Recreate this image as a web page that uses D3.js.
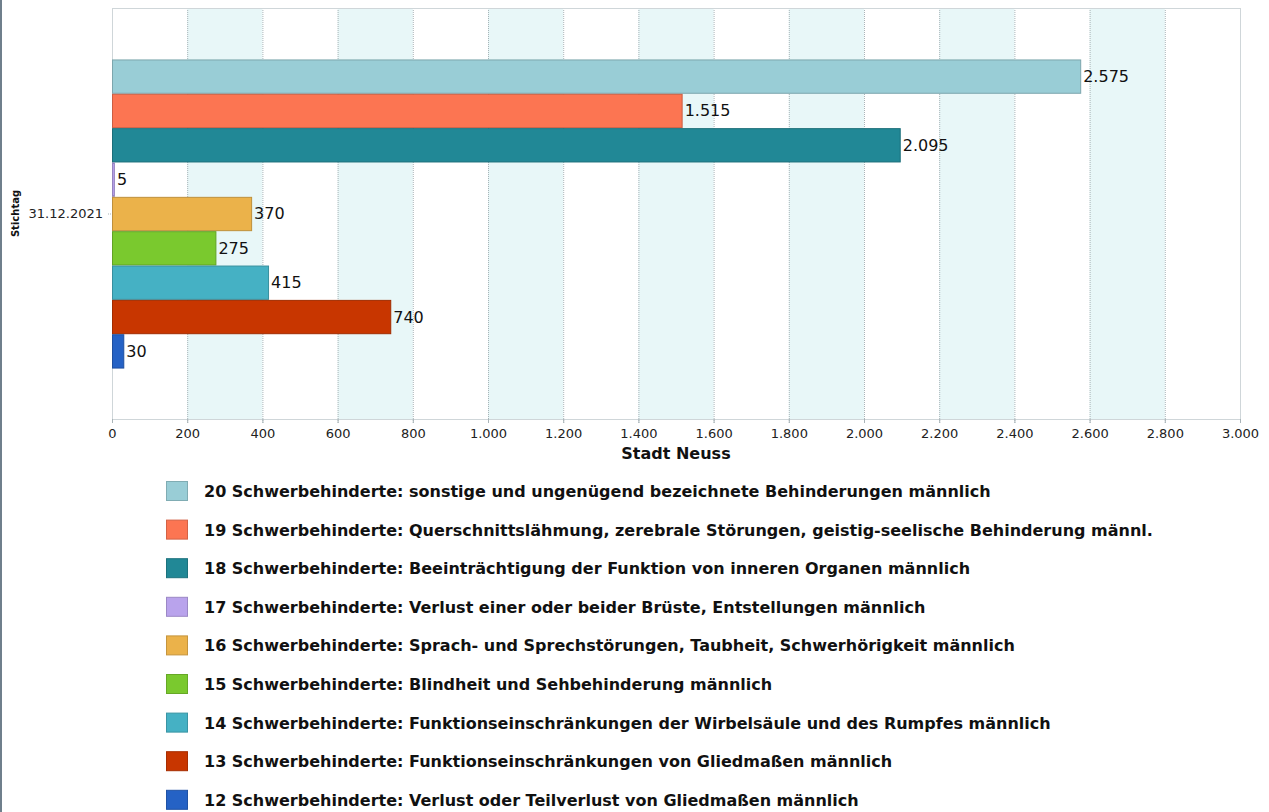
<!DOCTYPE html>
<html lang="de">
<head>
<meta charset="utf-8">
<title>Schwerbehinderte Stadt Neuss</title>
<script src="https://d3js.org/d3.v7.min.js"></script>
<style>
  body { margin: 0; background: #fff; }
  svg { display: block; font-family: "DejaVu Sans", Verdana, sans-serif; }
</style>
</head>
<body>
<svg id="chart" width="1269" height="812"></svg>
<script>
const stichtag = ["31.12.2021"];
const series = [
  "20 Schwerbehinderte: sonstige und ungenügend bezeichnete Behinderungen männlich",
  "19 Schwerbehinderte: Querschnittslähmung, zerebrale Störungen, geistig-seelische Behinderung männl.",
  "18 Schwerbehinderte: Beeinträchtigung der Funktion von inneren Organen männlich",
  "17 Schwerbehinderte: Verlust einer oder beider Brüste, Entstellungen männlich",
  "16 Schwerbehinderte: Sprach- und Sprechstörungen, Taubheit, Schwerhörigkeit männlich",
  "15 Schwerbehinderte: Blindheit und Sehbehinderung männlich",
  "14 Schwerbehinderte: Funktionseinschränkungen der Wirbelsäule und des Rumpfes männlich",
  "13 Schwerbehinderte: Funktionseinschränkungen von Gliedmaßen männlich",
  "12 Schwerbehinderte: Verlust oder Teilverlust von Gliedmaßen männlich"
];
const values = [2575, 1515, 2095, 5, 370, 275, 415, 740, 30];
const colors = ["#99cdd6", "#fc7552", "#218896", "#b9a3ec", "#ebb24a", "#7ac92e", "#45b1c4", "#c83600", "#2562c5"];
const xTicks = [0, 200, 400, 600, 800, 1000, 1200, 1400, 1600, 1800, 2000, 2200, 2400, 2600, 2800, 3000];

const svg = d3.select("#chart");
const fmt = d3.formatLocale({decimal: ",", thousands: ".", grouping: [3], currency: ["", "€"]}).format(",d");

// left frame edge
svg.append("rect").attr("x", 0).attr("y", 0).attr("width", 2).attr("height", 812).attr("fill", "#6f7f8c");

const plot = {left: 112, right: 1240, top: 8, bottom: 419};
const x = d3.scaleLinear().domain([0, 3000]).range([plot.left, plot.right]);
const y0 = d3.scaleBand().domain(stichtag).range([plot.top, plot.bottom]).paddingInner(0).paddingOuter(0.167);
const y1 = d3.scaleBand().domain(series).range([0, y0.bandwidth()]).paddingInner(0.03);

// alternating bands
const bands = d3.pairs(xTicks).filter((d, i) => i % 2 === 1);
svg.append("g").selectAll("rect").data(bands).join("rect")
  .attr("x", d => x(d[0])).attr("y", plot.top)
  .attr("width", d => x(d[1]) - x(d[0])).attr("height", plot.bottom - plot.top)
  .attr("fill", "#e8f7f8");

// grid lines
svg.append("g").selectAll("line").data(xTicks.slice(1)).join("line")
  .attr("x1", d => x(d) + 0.5).attr("x2", d => x(d) + 0.5)
  .attr("y1", plot.top).attr("y2", plot.bottom + 4)
  .attr("stroke", "#a9b4b8").attr("stroke-dasharray", "1,1");

// plot frame
svg.append("rect").attr("x", plot.left + 0.5).attr("y", plot.top + 0.5)
  .attr("width", plot.right - plot.left).attr("height", plot.bottom - plot.top)
  .attr("fill", "none").attr("stroke", "#cfd6d9");

// x axis
const xAxis = svg.append("g").attr("transform", `translate(0,${plot.bottom})`)
  .call(d3.axisBottom(x).tickValues(xTicks).tickFormat(fmt).tickSize(4).tickPadding(6));
xAxis.select(".domain").remove();
xAxis.selectAll(".tick line").attr("stroke", "#a9b4b8");
xAxis.selectAll("text").attr("fill", "#222").style("font-size", "13px").style("font-family", "DejaVu Sans, Verdana, sans-serif");

svg.append("text").attr("x", (plot.left + plot.right) / 2).attr("y", 459)
  .attr("text-anchor", "middle").attr("font-weight", "bold").attr("font-size", 16).attr("fill", "#111")
  .text("Stadt Neuss");

// y axis
const yc = y0(stichtag[0]) + y0.bandwidth() / 2;
svg.append("line").attr("x1", plot.left - 4).attr("x2", plot.left).attr("y1", yc + 0.5)
  .attr("y2", yc + 0.5).attr("stroke", "#a9b4b8").attr("stroke-dasharray", "1,1");
svg.append("text").attr("x", plot.left - 9).attr("y", yc + 4.5)
  .attr("text-anchor", "end").attr("font-size", 13).attr("fill", "#222").text(stichtag[0]);
svg.append("text").attr("transform", `translate(19,${yc}) rotate(-90)`)
  .attr("text-anchor", "middle").attr("font-weight", "bold").attr("font-size", 10).attr("fill", "#111")
  .text("Stichtag");

// bars
const rows = series.map((s, i) => ({name: s, value: values[i], color: colors[i]}));
const g = svg.append("g").attr("transform", `translate(0,${y0(stichtag[0])})`);
g.selectAll("rect").data(rows).join("rect")
  .attr("x", x(0) + 0.5).attr("y", d => y1(d.name) + 0.5)
  .attr("width", d => Math.max(x(d.value) - x(0), 1)).attr("height", y1.bandwidth())
  .attr("fill", d => d.color).attr("stroke", d => d3.color(d.color).darker(0.6));
g.selectAll("text").data(rows).join("text")
  .attr("x", d => x(d.value) + 3).attr("y", d => y1(d.name) + y1.bandwidth() / 2 + 6)
  .attr("font-size", 16).attr("fill", "#111").text(d => fmt(d.value));

// legend
const legend = svg.append("g");
const item = legend.selectAll("g").data(rows).join("g")
  .attr("transform", (d, i) => `translate(166,${481 + i * 38.6})`);
item.append("rect").attr("x", 0.5).attr("y", 0.5).attr("width", 21).attr("height", 19)
  .attr("fill", d => d.color).attr("stroke", d => d3.color(d.color).darker(0.5));
item.append("text").attr("x", 38).attr("y", 16).attr("font-weight", "bold").attr("font-size", 16)
  .attr("fill", "#111").text(d => d.name);
</script>
</body>
</html>
